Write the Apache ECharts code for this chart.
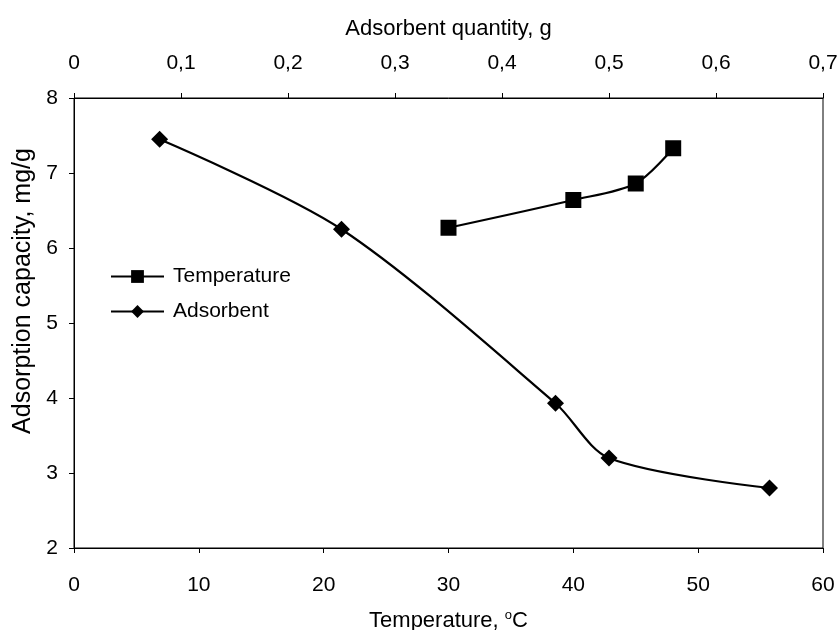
<!DOCTYPE html>
<html>
<head>
<meta charset="utf-8">
<script src="https://cdn.jsdelivr.net/npm/echarts@6/dist/echarts.min.js"></script>
<style>
  html, body { margin: 0; padding: 0; background: #fff; }
  #chart { width: 838px; height: 630px; }
</style>
</head>
<body>
<div id="chart"></div>
<script>
// Temperature series (bottom axis, °C)
const tempX = [30, 40, 45, 48];
const tempY = [6.27, 6.64, 6.86, 7.33];

// Adsorbent series (top axis, g)
const adsX = [0.08, 0.25, 0.45, 0.50, 0.65];
const adsY = [7.45, 6.25, 3.93, 3.20, 2.80];

const seriesNames = ['Temperature', 'Adsorbent'];
const FONT = 'Liberation Sans, Arial, sans-serif';
const TICK_FS = 21;
const TITLE_FS = 22;

const chart = echarts.init(document.getElementById('chart'), null, { renderer: 'canvas' });

const axisCommon = {
  axisLine: { show: true, lineStyle: { color: '#000', width: 1 } },
  axisTick: { show: true, inside: false, length: 5, lineStyle: { color: '#000' } },
  splitLine: { show: false },
  nameTextStyle: { color: '#000', fontFamily: FONT, fontSize: TITLE_FS }
};

chart.setOption({
  backgroundColor: '#fff',
  animation: false,
  grid: {
    left: 74, right: 15, top: 98, bottom: 82,
    containLabel: false, outerBoundsMode: 'none',
    show: true, borderColor: '#000', borderWidth: 1
  },
  legend: {
    orient: 'vertical',
    left: 105, top: 261,
    itemWidth: 53, itemHeight: 16, itemGap: 14,
    textStyle: { color: '#000', fontFamily: FONT, fontSize: 21, padding: [0, 0, 0, 4] },
    data: seriesNames
  },
  xAxis: [
    Object.assign({}, axisCommon, {
      type: 'value', position: 'bottom', min: 0, max: 60, interval: 10,
      name: 'Temperature, {sup|o}C', nameLocation: 'middle', nameGap: 61,
      nameTextStyle: {
        color: '#000', fontFamily: FONT, fontSize: TITLE_FS,
        rich: { sup: { fontSize: 13, verticalAlign: 'top', padding: [0, 0, 10, 0], color: '#000', fontFamily: FONT } }
      },
      axisLabel: { color: '#000', fontFamily: FONT, fontSize: TICK_FS, margin: 27 }
    }),
    Object.assign({}, axisCommon, {
      type: 'value', position: 'top', min: 0, max: 0.7, interval: 0.1,
      name: 'Adsorbent quantity, g', nameLocation: 'middle', nameGap: 58,
      axisLabel: {
        color: '#000', fontFamily: FONT, fontSize: TICK_FS, margin: 24,
        formatter: v => v === 0 ? '0' : v.toFixed(1).replace('.', ',')
      }
    })
  ],
  yAxis: Object.assign({}, axisCommon, {
    type: 'value', min: 2, max: 8, interval: 1,
    name: 'Adsorption capacity, mg/g', nameLocation: 'middle', nameGap: 38,
    nameTextStyle: { color: '#000', fontFamily: FONT, fontSize: 25, padding: [0, 0, 0, 64] },
    axisLabel: { color: '#000', fontFamily: FONT, fontSize: TICK_FS, margin: 16 }
  }),
  series: [
    {
      name: seriesNames[0], type: 'line', xAxisIndex: 0,
      data: tempX.map((x, i) => [x, tempY[i]]),
      smooth: 0.3,
      symbol: 'rect', symbolSize: 16,
      lineStyle: { color: '#000', width: 2.2 },
      itemStyle: { color: '#000' }
    },
    {
      name: seriesNames[1], type: 'line', xAxisIndex: 1,
      data: adsX.map((x, i) => [x, adsY[i]]),
      smooth: 0.3,
      symbol: 'diamond', symbolSize: 17,
      lineStyle: { color: '#000', width: 2.2 },
      itemStyle: { color: '#000' }
    }
  ]
});
</script>
</body>
</html>
